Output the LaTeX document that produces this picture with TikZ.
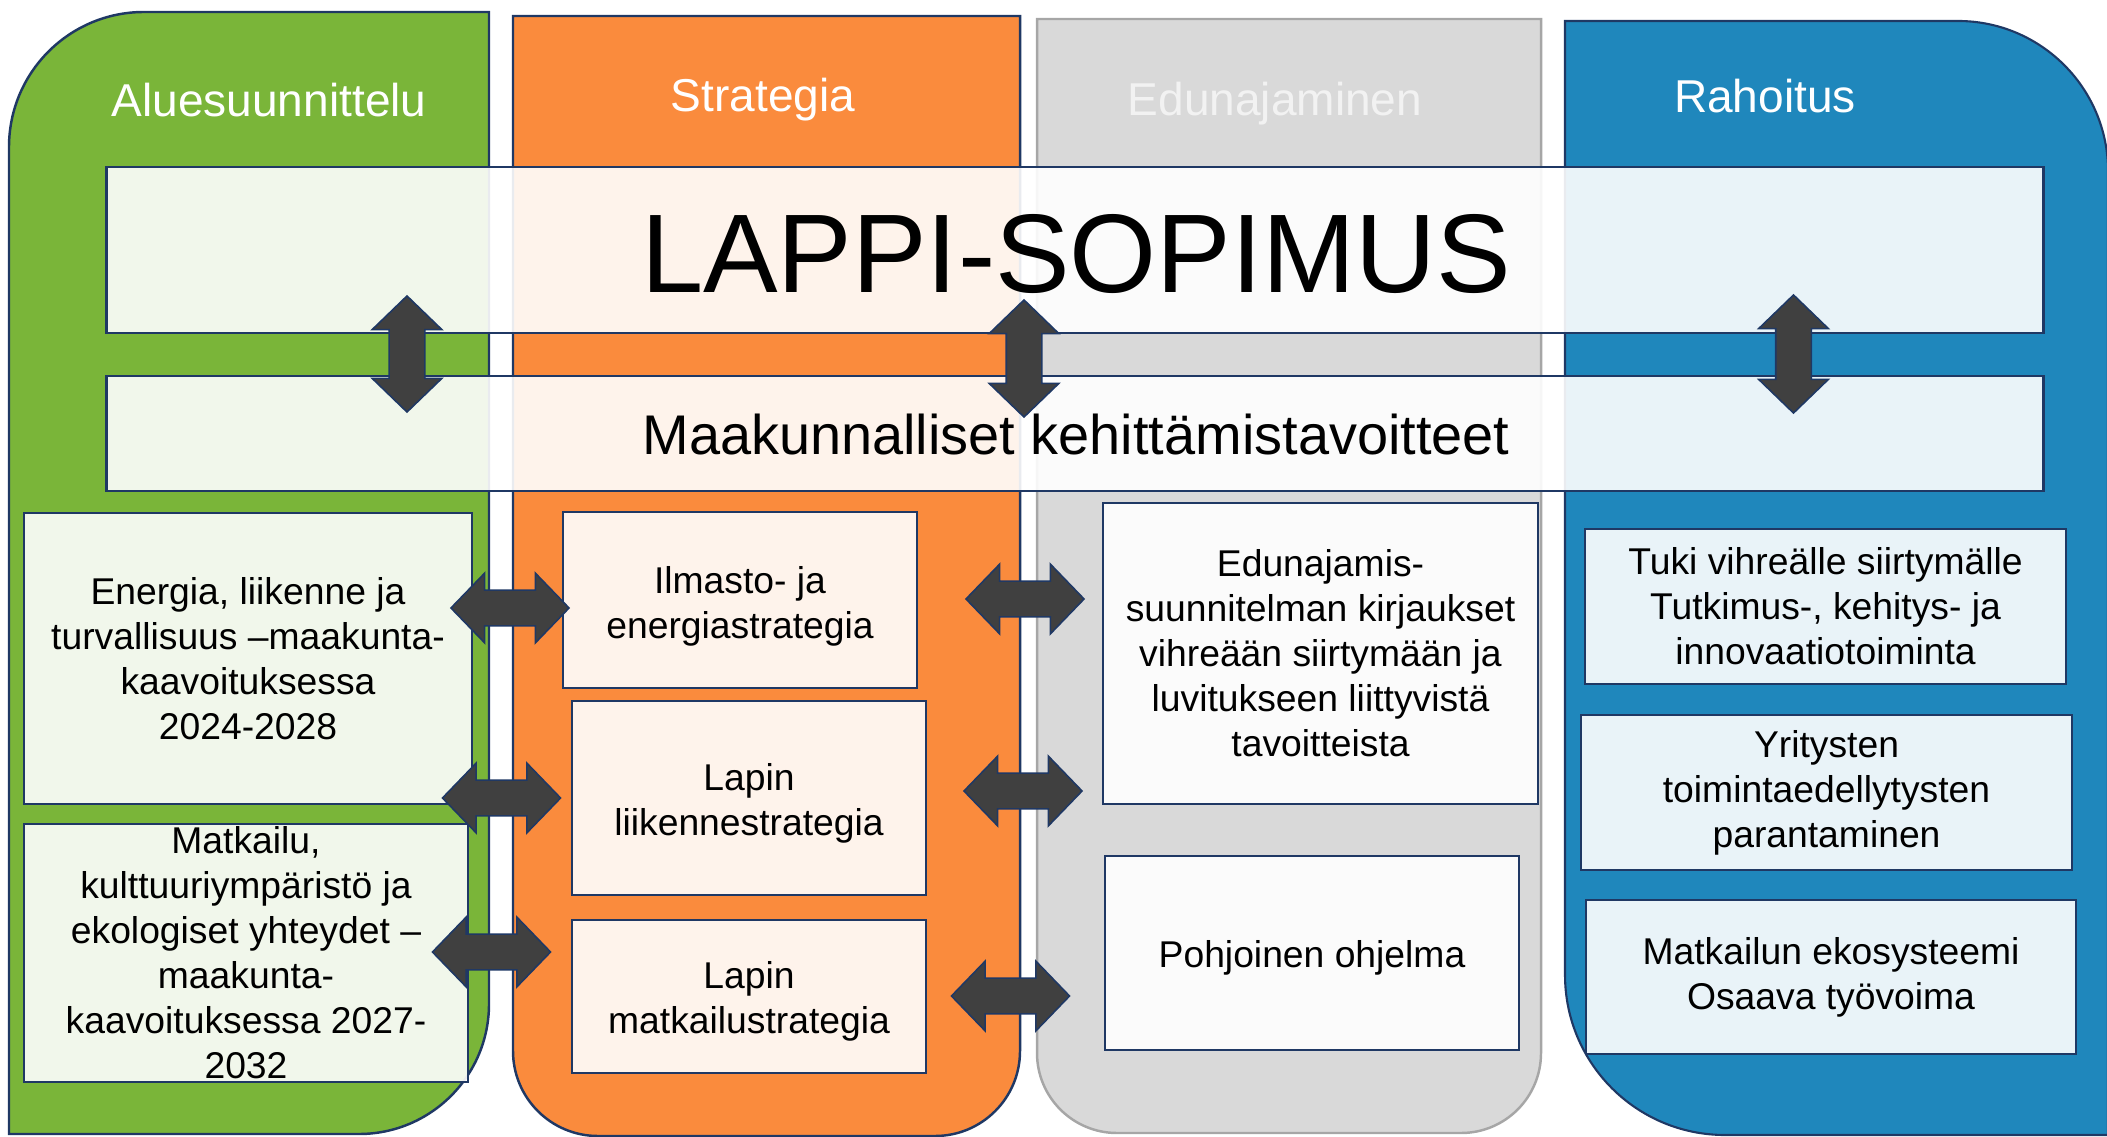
\documentclass[tikz,border=0pt]{standalone}
\usepackage{fontspec}
\setmainfont{Liberation Sans}
\usetikzlibrary{shapes.arrows}
\definecolor{cgreen}{RGB}{122,181,57}
\definecolor{corange}{RGB}{250,139,61}
\definecolor{cgray}{RGB}{217,217,217}
\definecolor{cgrayline}{RGB}{166,166,166}
\definecolor{cblue}{RGB}{31,135,188}
\definecolor{navy}{RGB}{31,56,100}
\definecolor{arrowgray}{RGB}{64,64,64}
\begin{document}
\begin{tikzpicture}[x=0.01cm, y=-0.01cm,
  font=\fontsize{10.6}{12.8}\selectfont,
  col/.style={line width=0.7pt, draw=navy},
  band/.style={draw=navy, line width=0.7pt, fill=white, fill opacity=0.9, text opacity=1, inner sep=0pt},
  box/.style={draw=navy, line width=0.65pt, fill=white, fill opacity=0.9, text opacity=1, align=center, inner sep=0pt},
  coltitle/.style={text=white, font=\fontsize{13.1}{15}\selectfont, anchor=base},
  harr/.style={double arrow, draw=navy, fill=arrowgray, line width=0.45pt, minimum height=1.18cm, double arrow head extend=0.17cm, double arrow tip angle=92, inner xsep=0pt, inner ysep=0.17cm},
  varr/.style={harr, shape border rotate=90, inner xsep=0.17cm, inner ysep=0pt}]
\useasboundingbox (0,0) rectangle (2107,1137);
% columns
\draw[col, fill=cgreen] (9,1134) -- (9,147) .. controls (9,72.4) and (69.4,12) .. (144,12) -- (489,12) -- (489,1004) .. controls (489,1075.8) and (430.8,1134) .. (359,1134) -- cycle;
\draw[col, fill=corange] (513,16) -- (1020,16) -- (1020,1051) .. controls (1020,1098) and (982,1136) .. (935,1136) -- (598,1136) .. controls (551,1136) and (513,1098) .. (513,1051) -- cycle;
\draw[line width=0.7pt, draw=cgrayline, fill=cgray] (1037,19) -- (1541,19) -- (1541,1053) .. controls (1541,1097.2) and (1505.2,1133) .. (1461,1133) -- (1117,1133) .. controls (1072.8,1133) and (1037,1097.2) .. (1037,1053) -- cycle;
\draw[line width=0.6pt, draw=navy, fill=cblue] (1565,21) -- (1958,21) .. controls (2040.8,21) and (2108,88.2) .. (2108,171) -- (2108,1135) -- (1725,1135) .. controls (1636.6,1135) and (1565,1063.4) .. (1565,975) -- cycle;
% column titles
\node[coltitle] (t1) at (269,117) {Aluesuunnittelu};
\node[coltitle] (t2) at (763,112) {Strategia};
\node[coltitle, text=white!95!black] (t3) at (1275,116) {Edunajaminen};
\node[coltitle] (t4) at (1765,113) {Rahoitus};
% bands
\node[band, minimum width=19.36cm, minimum height=1.66cm] (sop) at (1075,250) {};
\node[font=\fontsize{31.8}{36}\selectfont, anchor=base, inner sep=0pt] (soptxt) at (1076,293) {LAPPI-SOPIMUS};
\node[band, minimum width=19.36cm, minimum height=1.15cm] (tav) at (1075,433.5) {};
\node[font=\fontsize{15.9}{18}\selectfont, anchor=base, inner sep=0pt] (tavtxt) at (1076,455) {Maakunnalliset kehittämistavoitteet};
% boxes
\node[box, minimum width=4.48cm, minimum height=2.91cm] (e1) at (248,658.5) {Energia, liikenne ja\\turvallisuus –maakunta-\\kaavoituksessa\\2024-2028};
\node[box, minimum width=4.44cm, minimum height=2.58cm] (e2) at (246,953) {};
\node[align=center, inner sep=0pt] (e2t) at (e2.center) {Matkailu,\\kulttuuriympäristö ja\\ekologiset yhteydet –\\maakunta-\\kaavoituksessa 2027-\\2032};
\node[box, minimum width=3.54cm, minimum height=1.76cm] (o1) at (740,600) {};
\node[align=center, inner sep=0pt] (o1t) at (740,606) {Ilmasto- ja\\energiastrategia};
\node[box, minimum width=3.54cm, minimum height=1.94cm] (o2) at (749,798) {};
\node[align=center, inner sep=0pt] (o2t) at (749,803) {Lapin\\liikennestrategia};
\node[box, minimum width=3.54cm, minimum height=1.53cm] (o3) at (749,996.5) {};
\node[align=center, inner sep=0pt] (o3t) at (749,1001.5) {Lapin\\matkailustrategia};
\node[box, minimum width=4.35cm, minimum height=3.01cm] (g1) at (1320.5,653.5) {Edunajamis-\\suunnitelman kirjaukset\\vihreään siirtymään ja\\luvitukseen liittyvistä\\tavoitteista};
\node[box, minimum width=4.14cm, minimum height=1.94cm] (g2) at (1312,953) {};
\node[inner sep=0pt] (g2t) at (1312,958) {Pohjoinen ohjelma};
\node[box, minimum width=4.81cm, minimum height=1.55cm] (r1) at (1825.5,606.5) {Tuki vihreälle siirtymälle\\Tutkimus-, kehitys- ja\\innovaatiotoiminta};
\node[box, minimum width=4.91cm, minimum height=1.55cm] (r2) at (1826.5,792.5) {Yritysten\\toimintaedellytysten\\parantaminen};
\node[box, minimum width=4.90cm, minimum height=1.54cm] (r3) at (1831,977) {Matkailun ekosysteemi\\Osaava työvoima};
% block arrows
\node[harr] (a1) at (510,608) {};
\node[harr] (a2) at (501.5,798) {};
\node[harr] (a3) at (491.5,952) {};
\node[harr] (b1) at (1025,599) {};
\node[harr] (b2) at (1023,791) {};
\node[harr] (b3) at (1010.5,996) {};
\node[varr, minimum height=1.16cm] (v1) at (407,354) {};
\node[varr, minimum height=1.17cm] (v2) at (1024,358.5) {};
\node[varr, minimum height=1.18cm] (v3) at (1793.5,354) {};
\end{tikzpicture}
\end{document}
